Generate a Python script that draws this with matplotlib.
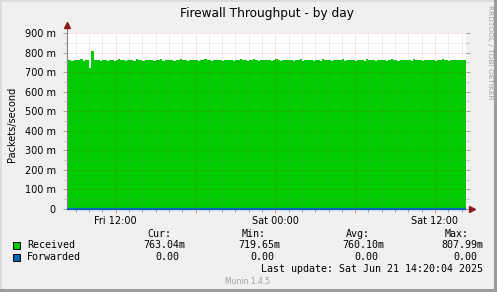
import numpy as np
import matplotlib
matplotlib.use('Agg')
import matplotlib.pyplot as plt
from matplotlib.patches import Rectangle
from matplotlib.ticker import FixedLocator

# received packets/s, in milli units, 10 minute steps from Fri 08:20 to Sat 14:20
rx = [
    761, 763, 758, 764, 760, 762, 765, 759, 763, 761, 720, 808, 762, 760, 764, 758, 763, 761,
    759, 764, 762, 757, 763, 766, 760, 762, 758, 764, 761, 763, 759, 765, 762, 760, 757, 763,
    762, 760, 764, 759, 763, 761, 767, 758, 762, 760, 764, 762, 756, 763, 761, 765, 760, 762,
    758, 763, 761, 764, 760, 759, 763, 762, 766, 760, 761, 758, 764, 762, 760, 763, 759, 761,
    764, 760, 762, 757, 763, 761, 765, 760, 762, 759, 763, 761, 768, 760, 758, 762, 764, 760,
    761, 763, 759, 762, 765, 760, 758, 763, 761, 764, 760, 762, 757, 763, 761, 766, 759, 762,
    760, 764, 762, 758, 763, 761, 759, 765, 762, 760, 763, 757, 761, 764, 760, 762, 767, 759,
    763, 761, 760, 764, 758, 762, 761, 763, 759, 765, 762, 760, 764, 758, 761, 763, 760, 762,
    759, 763, 766, 760, 762, 758, 764, 761, 760, 763, 762, 757, 765, 761, 760, 763, 759, 762,
    761, 764, 760, 762, 758, 763, 761, 765, 760, 762, 759, 764, 761, 763, 760, 762, 764, 763,
]
fwd = [0.0] * len(rx)

t_start = 8 + 20 / 60.0   # hours since Fri 00:00
t_end = 38 + 20 / 60.0
tick_pos = [12, 18, 24, 30, 36]
tick_lbl = ['Fri 12:00', '', 'Sat 00:00', '', 'Sat 12:00']
y_ticks = [0, 0.1, 0.2, 0.3, 0.4, 0.5, 0.6, 0.7, 0.8, 0.9]
y_lbl = ['0', '100 m', '200 m', '300 m', '400 m', '500 m', '600 m', '700 m', '800 m', '900 m']

legend_rows = [
    ('Received', '#00cc00', ['763.04m', '719.65m', '760.10m', '807.99m']),
    ('Forwarded', '#0066b3', ['0.00', '0.00', '0.00', '0.00']),
]
headers = ['Cur:', 'Min:', 'Avg:', 'Max:']

W, H = 497, 292
def px(x, y):
    return x / W, 1 - y / H

fig = plt.figure(figsize=(W / 100, H / 100), dpi=100, facecolor='#f0f0f0')
ax = fig.add_axes([67 / W, 83 / H, 399 / W, 176 / H])
ax.set_facecolor('white')

vals = np.array(rx) / 1000.0
edges = t_start + np.arange(len(rx) + 1) / 6.0
ax.stairs(vals, edges, fill=True, color='#00cc00', lw=0, zorder=1)
ax.stairs(fwd, edges, color='#0066b3', lw=1.6, zorder=3, clip_on=False)

ax.set_xlim(t_start, t_end)
ax.set_ylim(0, 0.9)

# grid on top of the area, rrdtool style
ax.set_axisbelow(False)
ax.xaxis.set_major_locator(FixedLocator(tick_pos))
ax.xaxis.set_minor_locator(FixedLocator(range(9, 39)))
ax.set_xticklabels(tick_lbl)
ax.yaxis.set_major_locator(FixedLocator(y_ticks))
ax.yaxis.set_minor_locator(FixedLocator(np.arange(0.05, 0.9, 0.1)))
ax.set_yticklabels(y_lbl)

dots = (0, (1, 1))
ax.grid(which='major', color='#ff0000', alpha=0.22, lw=0.72, linestyle=dots, zorder=2)
ax.grid(which='minor', color='#7f7f7f', alpha=0.25, lw=0.72, linestyle=dots, zorder=2)

ax.tick_params(axis='x', which='major', length=3, width=0.7, color='#ff8080',
               labelsize=7, pad=2, labelcolor='black')
ax.tick_params(axis='x', which='minor', length=2, width=0.7, color='#a0a0a0')
ax.tick_params(axis='y', which='major', length=3, width=0.7, color='#a0a0a0',
               labelsize=7, pad=5, right=True, labelcolor='black')
ax.tick_params(axis='y', which='minor', length=2, width=0.7, color='#c0c0c0', right=True)

for s in ['top', 'right']:
    ax.spines[s].set_visible(False)
ax.spines['left'].set_color('#808080')
ax.spines['bottom'].set_color('#808080')
ax.spines['left'].set_linewidth(0.8)
ax.spines['bottom'].set_linewidth(0.8)
ax.spines['left'].set_bounds(0, 0.93)
ax.spines['bottom'].set_bounds(t_start, t_end + 0.3)

# arrow heads
ax.plot([t_start], [0.94], marker='^', color='#8b1a1a', markersize=4, clip_on=False, zorder=5)
ax.plot([t_end + 0.45], [0], marker='>', color='#8b1a1a', markersize=4, clip_on=False, zorder=5)

fig.text(*px(267, 13), 'Firewall Throughput - by day', ha='center', va='center', fontsize=8.7)
fig.text(*px(12, 124), 'Packets/second', rotation=90, ha='center', va='center', fontsize=7)
fig.text(*px(490, 5), 'RRDTOOL / TOBI OETIKER', rotation=270, ha='center', va='top',
         fontsize=5.3, color='#a0a0a0')

mono = dict(family='DejaVu Sans Mono', fontsize=7.2)
col_right = [185, 280, 384, 483]
for r, h in zip(col_right, headers):
    fig.text(*px(r - 14, 234), h, ha='right', va='center', **mono)

for i, (name, col, vs) in enumerate(legend_rows):
    y = 245 + 12 * i
    fig.add_artist(Rectangle(px(13, y + 3.5), 7 / W, 7 / H, transform=fig.transFigure,
                             facecolor=col, edgecolor='black', lw=0.7))
    fig.text(*px(27, y), name, ha='left', va='center', **mono)
    for r, v in zip(col_right, vs):
        rr = r if v.endswith('m') else r - 6
        fig.text(*px(rr, y), v, ha='right', va='center', **mono)

fig.text(*px(483, 269), 'Last update: Sat Jun 21 14:20:04 2025', ha='right', va='center', **mono)
fig.text(*px(248, 282), 'Munin 1.4.5', ha='center', va='center', fontsize=5.5, color='#a0a0a0')

# 3d frame around the image
fig.add_artist(Rectangle((0, 1 - 2 / H), 1, 2 / H, transform=fig.transFigure, color='#dcdcdc', lw=0))
fig.add_artist(Rectangle((0, 0), 2 / W, 1, transform=fig.transFigure, color='#dcdcdc', lw=0))
fig.add_artist(Rectangle((0, 0), 1, 3 / H, transform=fig.transFigure, color='#9c9c9c', lw=0))
fig.add_artist(Rectangle((1 - 3 / W, 0), 3 / W, 1, transform=fig.transFigure, color='#9c9c9c', lw=0))

fig.savefig('out.png', dpi=100, facecolor=fig.get_facecolor())
